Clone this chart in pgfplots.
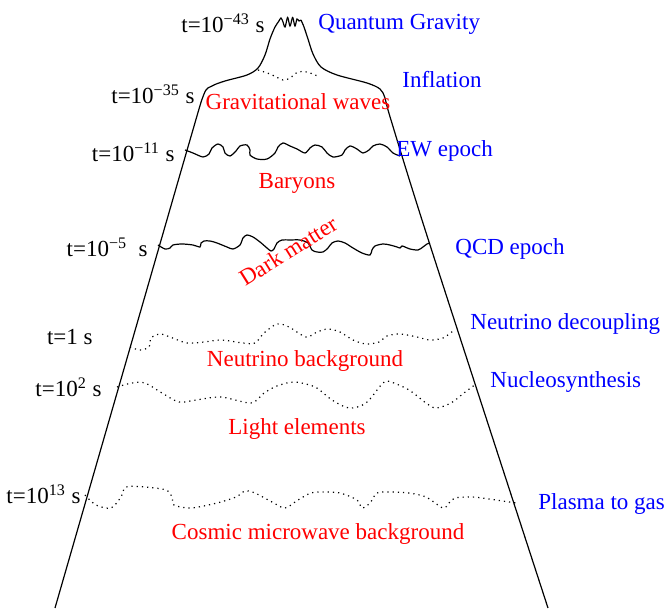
\documentclass[border=0pt]{standalone}
\usepackage{fontspec}
\setmainfont{Liberation Serif}
\usepackage{pgfplots}
\pgfplotsset{compat=1.18}

\pgfplotsset{
  epoch/.style={line width=0.6pt, black, smooth, tension=0.5, no marks},
  relic/.style={line width=0.6pt, black, dotted, smooth, tension=0.5, no marks},
}
\tikzset{
  era/.style={inner sep=0pt, anchor=base west, text=blue},
  stuff/.style={inner sep=0pt, anchor=base, text=red},
  tlab/.style={inner sep=0pt, anchor=base east, text=black},
}

\begin{document}
\begin{tikzpicture}
\begin{axis}[
    width=333pt, height=305pt, scale only axis,
    xmin=0, xmax=666, ymin=0, ymax=610,
    y dir=reverse, enlargelimits=false,
    hide axis, clip=false,
    font=\fontsize{11.5}{13}\selectfont,
]
% page frame
\addplot[draw=none] coordinates {(0,0) (666,610)};

% outline of the cone
\addplot[epoch] coordinates {
  (55,608) (130,348) (190,140) (204,94) (212,86) (225,81) (247,75)
  (258,68) (265,55) (270,39) (275,27) (279,21)
};
\addplot[line width=0.6pt, black, smooth, tension=0.6] coordinates {
  (279,21) (281,18) (283,22) (285,27) (287,19) (288,18) (290,26)
  (292,19) (293,18) (295,26) (297,19) (299,21) (301,20)
};
\addplot[epoch] coordinates {
  (301,20) (304,27) (308,39) (313,54) (321,67) (337,75) (367,83)
  (380,89) (385,98) (391,120) (430,245) (548,608)
};

% inflation
\addplot[relic] coordinates {
  (258,70) (270,74) (283,80) (290,78) (298,72) (307,72) (320,77)
};

% EW epoch
\addplot[epoch] coordinates {
  (185,150) (193,153) (203,157) (209,154) (212,148) (218,144) (223,147)
  (225,153) (230,156) (236,151) (240,146) (247,145) (250,150) (250,155)
  (257,159) (267,159) (275,153) (278,147) (283,143) (290,146) (297,149)
  (305,153) (310,148) (315,145) (322,147) (327,153) (333,157) (342,155)
  (345,150) (350,146) (357,149) (363,153) (369,150) (373,146) (380,144)
  (387,147) (393,153) (400,156)
};

% QCD epoch
\addplot[epoch] coordinates {
  (158,245) (165,249) (170,248) (173,245) (182,244) (193,245) (200,247)
  (201,243) (204,241) (210,241) (217,243) (227,247) (233,249) (240,245)
  (243,238) (247,235) (253,237) (260,242) (267,248) (271,251) (274,249)
  (277,243) (282,240) (290,240) (300,240) (308,243) (312,250) (317,252)
  (323,252) (328,248) (332,243) (338,241) (345,243) (353,248) (362,253)
  (370,255) (372,250) (375,246) (383,244) (390,245) (397,247) (400,248)
  (402,246) (405,247) (410,249) (418,250) (423,247) (427,244) (430,243)
};

% neutrino decoupling
\addplot[relic] coordinates {
  (130,347) (140,350) (149,347) (151,338) (160,334) (170,337) (187,343)
  (204,342) (221,340) (243,343) (255,343) (264,333) (277,324) (289,327)
  (306,337) (317,332) (328,329) (340,332) (353,340) (366,344) (379,342)
  (387,336) (400,334) (417,337) (430,340) (443,338) (453,331)
};

% nucleosynthesis
\addplot[relic] coordinates {
  (117,387) (132,383) (145,383) (162,393) (179,402) (196,400) (221,397)
  (251,403) (264,393) (277,386) (294,382) (315,387) (332,400) (349,408)
  (366,403) (383,383) (391,382) (409,390) (426,403) (436,408) (451,403)
  (464,393) (476,384)
};

% plasma to gas
\addplot[relic] coordinates {
  (85,495) (96,505) (111,508) (121,497) (126,487) (145,487) (166,490)
  (172,497) (174,505) (191,508) (217,503) (236,497) (245,491) (255,493)
  (272,502) (285,508) (298,500) (311,493) (323,492) (340,493) (357,500)
  (362,508) (370,503) (377,493) (391,492) (409,493) (426,497) (443,508)
  (449,503) (455,498) (472,497) (489,499) (509,502) (517,503)
};

% times
\node[tlab] at (axis cs:265,33) {t=10\textsuperscript{−43} s};
\node[tlab] at (axis cs:195,104) {t=10\textsuperscript{−35} s};
\node[tlab] at (axis cs:175,162) {t=10\textsuperscript{−11} s};
\node[tlab] at (axis cs:148,257) {t=10\textsuperscript{−5}\ \ s};
\node[tlab] at (axis cs:93,345) {t=1 s};
\node[tlab] at (axis cs:102,397) {t=10\textsuperscript{2}\ s};
\node[tlab] at (axis cs:81,504) {t=10\textsuperscript{13} s};

% eras
\node[era] at (axis cs:318,30) {Quantum Gravity};
\node[era] at (axis cs:402,88) {Inflation};
\node[era] at (axis cs:396,157) {EW epoch};
\node[era] at (axis cs:455,255) {QCD epoch};
\node[era] at (axis cs:470,330) {Neutrino decoupling};
\node[era] at (axis cs:490,388) {Nucleosynthesis};
\node[era] at (axis cs:538,510) {Plasma to gas};

% relics
\node[stuff] at (axis cs:298,110) {Gravitational waves};
\node[stuff] at (axis cs:297,189) {Baryons};
\node[inner sep=0pt, text=red, rotate=32] at (axis cs:288,251) {Dark matter};
\node[stuff] at (axis cs:305,367) {Neutrino background};
\node[stuff] at (axis cs:297,435) {Light elements};
\node[stuff] at (axis cs:318,540) {Cosmic microwave background};
\end{axis}
\end{tikzpicture}
\end{document}
